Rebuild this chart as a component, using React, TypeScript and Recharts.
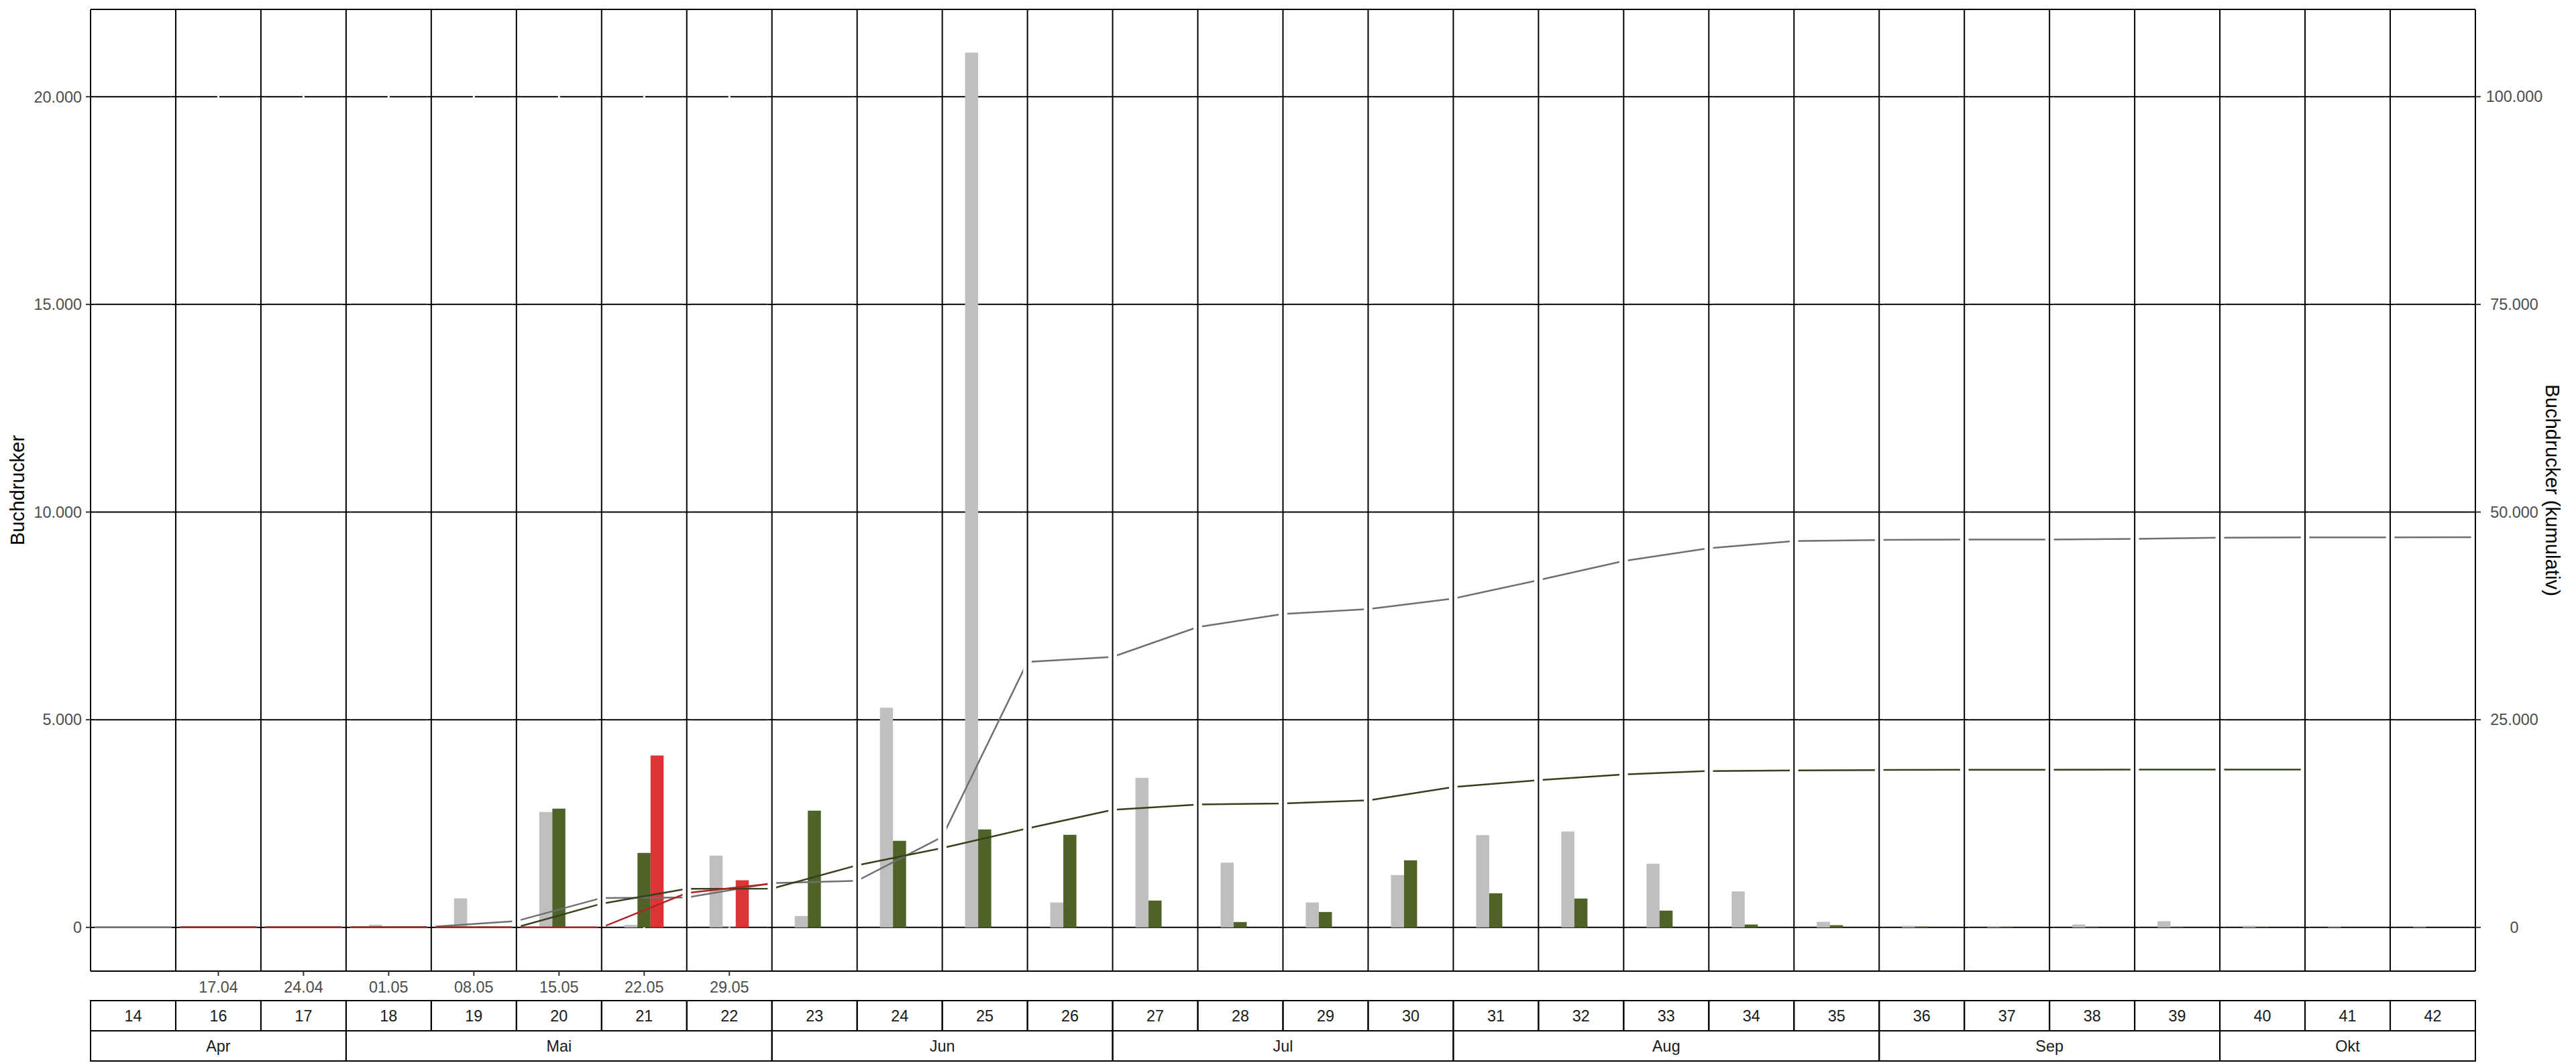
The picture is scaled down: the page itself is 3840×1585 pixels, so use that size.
import React from 'react';
import {
  ComposedChart,
  Bar,
  Line,
  XAxis,
  YAxis,
  ReferenceLine,
  ReferenceArea,
} from 'recharts';

// ---------- data ----------
const weeks = ['14', '16', '17', '18', '19', '20', '21', '22', '23', '24', '25', '26', '27', '28', '29', '30', '31', '32', '33', '34', '35', '36', '37', '38', '39', '40', '41', '42'];

const dateLabels = ['', '17.04', '24.04', '01.05', '08.05', '15.05', '22.05', '29.05', '', '', '', '', '', '', '', '', '', '', '', '', '', '', '', '', '', '', '', ''];

const months = ['Apr', 'Mai', 'Jun', 'Jul', 'Aug', 'Sep', 'Okt'];
const monthSpans = [3, 5, 4, 4, 5, 4, 3];

// weekly catches (left axis)
const grayWeekly = [null, null, null, 65, 700, 2780, 60, 1730, 275, 5290, 21060, 600, 3600, 1560, 600, 1260, 2220, 2310, 1535, 865, 135, 38, 11, 70, 150, 38, 10, 10];
const greenWeekly = [null, null, null, null, null, 2858, 1793, 15, 2810, 2083, 2358, 2229, 646, 129, 371, 1615, 820, 694, 404, 70, 54, 20, 10, 10, 10, 8, null, null];
const redWeekly = [null, null, null, null, null, null, 4140, 1135, null, null, null, null, null, null, null, null, null, null, null, null, null, null, null, null, null, null, null, null];

// cumulative values at week boundaries (right axis), boundary k = left edge of week k
const grayCumulative = [0, 0, 0, 0, 65, 765, 3545, 3605, 5335, 5610, 10900, 31960, 32560, 36160, 37720, 38320, 39580, 41800, 44110, 45645, 46510, 46645, 46683, 46694, 46764, 46914, 46952, 46962, 46972];
const greenCumulative = [null, 0, 0, 0, 0, 0, 2858, 4651, 4666, 7476, 9559, 11917, 14146, 14792, 14921, 15292, 16907, 17727, 18421, 18825, 18895, 18949, 18969, 18979, 18989, 18999, 19007, null, null];
const redCumulative = [null, 0, 0, 0, 0, 0, 0, 4140, 5275, null, null, null, null, null, null, null, null, null, null, null, null, null, null, null, null, null, null, null, null];

const leftTicks = [0, 5000, 10000, 15000, 20000];
const rightTicks = [0, 25000, 50000, 75000, 100000];
const LEFT_DOMAIN: [number, number] = [-1052.5, 22102.5];
const RIGHT_DOMAIN: [number, number] = [-5262.5, 110512.5];

// ---------- layout / style ----------
const W = 3840;
const H = 1585;
const LEFT_W = 135;
const RIGHT_W = 150;
const PANEL_W = (W - LEFT_W - RIGHT_W) / weeks.length;
const GAP = 0.05; // half-width of white gap at panel borders (in panel units)
const FONT = '"Liberation Sans", Arial, Helvetica, sans-serif';

const weeklyData = weeks.map((w, i) => ({
  week: w,
  gray: grayWeekly[i],
  green: greenWeekly[i],
  red: redWeekly[i],
}));

const boundaries = Array.from({ length: weeks.length + 1 }, (_, k) => k);

const lineData = boundaries.map((k) => ({
  k,
  gray: grayCumulative[k],
  green: greenCumulative[k],
  red: redCumulative[k],
}));

const monthStarts: { name: string; start: number; span: number }[] = [];
{
  let s = 0;
  months.forEach((m, i) => {
    monthStarts.push({ name: m, start: s, span: monthSpans[i] });
    s += monthSpans[i];
  });
}

const fmt = (v: number) => String(v).replace(/\B(?=(\d{3})+(?!\d))/g, '.');

function StripTick(props: any) {
  const { x, y, payload } = props;
  const i = weeks.indexOf(String(payload.value));
  const left = x - PANEL_W / 2;
  const date = dateLabels[i];
  const m = monthStarts.find((s) => s.start === i);
  return (
    <g>
      {date ? <line x1={x} x2={x} y1={y} y2={y + 7} stroke="#333333" strokeWidth={2} /> : null}
      {date ? (
        <text x={x} y={y + 23.5} dy="0.35em" textAnchor="middle" fill="#4d4d4d" fontSize={23.4} fontFamily={FONT}>
          {date}
        </text>
      ) : null}
      <rect x={left} y={y + 44} width={PANEL_W} height={45} fill="none" stroke="#000" strokeWidth={2} />
      <text x={x} y={y + 66.5} dy="0.35em" textAnchor="middle" fill="#1a1a1a" fontSize={23.4} fontFamily={FONT}>
        {payload.value}
      </text>
      {m ? (
        <rect x={left} y={y + 89} width={PANEL_W * m.span} height={45} fill="none" stroke="#000" strokeWidth={2} />
      ) : null}
      {m ? (
        <text x={left + (PANEL_W * m.span) / 2} y={y + 111.5} dy="0.35em" textAnchor="middle" fill="#1a1a1a" fontSize={23.4} fontFamily={FONT}>
          {m.name}
        </text>
      ) : null}
    </g>
  );
}

function RightTick(props: any) {
  const { x, y, payload } = props;
  return (
    <text x={x + 50} y={y} dy="0.35em" textAnchor="middle" fill="#4d4d4d" fontSize={23.4} fontFamily={FONT}>
      {fmt(payload.value)}
    </text>
  );
}

function AxisTitle(props: any) {
  const { viewBox, side, text } = props;
  const vb = viewBox || (side === 'left' ? { x: 0, y: 14, width: LEFT_W, height: 1434 } : { x: W - RIGHT_W, y: 14, width: RIGHT_W, height: 1434 });
  const cy = vb.y + vb.height / 2;
  const cx = side === 'left' ? vb.x + 36 : vb.x + 105;
  return (
    <text
      x={cx}
      y={cy}
      textAnchor="middle"
      fill="#000"
      fontSize={29.3}
      fontFamily={FONT}
      transform={`rotate(${side === 'left' ? -90 : 90}, ${cx}, ${cy})`}
    >
      {text}
    </text>
  );
}

export default function App() {
  const datedIdx = dateLabels.map((d, i) => (d ? i : -1)).filter((i) => i >= 0);
  return (
    <div style={{ position: 'absolute', left: 0, top: 0, width: W, height: H, background: '#fff' }}>
      <ComposedChart
        width={W}
        height={H}
        data={weeklyData}
        margin={{ top: 14, right: 0, bottom: 2, left: 0 }}
        barGap={0}
        barCategoryGap={0}
        barSize={19.5}
      >
        <XAxis
          xAxisId="w"
          dataKey="week"
          type="category"
          height={135}
          interval={0}
          tickLine={false}
          axisLine={false}
          tickSize={0}
          tickMargin={0}
          tick={(p: any) => <StripTick {...p} />}
        />
        <XAxis xAxisId="n" type="number" dataKey="k" domain={[0, weeks.length]} hide height={0} allowDataOverflow />
        <YAxis
          yAxisId="l"
          width={LEFT_W}
          domain={LEFT_DOMAIN}
          ticks={leftTicks}
          interval={0}
          allowDataOverflow
          axisLine={false}
          tickSize={7}
          tickMargin={6}
          tickLine={{ stroke: '#333333', strokeWidth: 2 }}
          tick={{ fill: '#4d4d4d', fontSize: 23.4, fontFamily: FONT }}
          tickFormatter={fmt}
          label={<AxisTitle side="left" text="Buchdrucker" />}
        />
        <YAxis
          yAxisId="r"
          orientation="right"
          width={RIGHT_W}
          domain={RIGHT_DOMAIN}
          ticks={rightTicks}
          interval={0}
          allowDataOverflow
          axisLine={false}
          tickSize={8}
          tickMargin={0}
          tickLine={{ stroke: '#333333', strokeWidth: 2 }}
          tick={(p: any) => <RightTick {...p} />}
          label={<AxisTitle side="right" text="Buchdrucker (kumulativ)" />}
        />

        {/* horizontal grid lines (below bars) */}
        {leftTicks.map((v) => (
          <ReferenceLine key={`g${v}`} xAxisId="n" yAxisId="l" y={v} stroke="#000" strokeWidth={2} ifOverflow="visible" zIndex={100} />
        ))}
        {/* small white marks at date positions */}
        {datedIdx.flatMap((i) =>
          [0, 20000].map((v) => (
            <ReferenceLine
              key={`m${i}-${v}`}
              xAxisId="n"
              yAxisId="l"
              segment={[{ x: i + 0.5, y: v - 45 }, { x: i + 0.5, y: v + 45 }]}
              stroke="#fff"
              strokeWidth={3}
              ifOverflow="visible"
              zIndex={150}
            />
          ))
        )}

        <Bar xAxisId="w" yAxisId="l" dataKey="gray" fill="#bfbfbf" isAnimationActive={false} zIndex={300} />
        <Bar xAxisId="w" yAxisId="l" dataKey="green" fill="#4f6228" isAnimationActive={false} zIndex={300} />
        <Bar xAxisId="w" yAxisId="l" dataKey="red" fill="#dc3535" isAnimationActive={false} zIndex={300} />

        <Line xAxisId="n" yAxisId="r" data={lineData} dataKey="gray" type="linear" stroke="#6f6f6f" strokeWidth={2.5} dot={false} activeDot={false} isAnimationActive={false} zIndex={400} />
        <Line xAxisId="n" yAxisId="r" data={lineData} dataKey="green" type="linear" stroke="#34411a" strokeWidth={2.5} dot={false} activeDot={false} isAnimationActive={false} zIndex={401} />
        <Line xAxisId="n" yAxisId="r" data={lineData} dataKey="red" type="linear" stroke="#b22222" strokeWidth={2.5} dot={false} activeDot={false} isAnimationActive={false} zIndex={402} />

        {/* white gaps between panels */}
        {boundaries.map((k) => (
          <ReferenceArea
            key={`s${k}`}
            xAxisId="n"
            yAxisId="l"
            x1={Math.max(0, k - GAP)}
            x2={Math.min(weeks.length, k + GAP)}
            y1={LEFT_DOMAIN[0]}
            y2={LEFT_DOMAIN[1]}
            fill="#fff"
            fillOpacity={1}
            stroke="none"
            ifOverflow="visible"
            zIndex={450}
          />
        ))}
        {/* grid lines restored inside the gaps */}
        {boundaries.flatMap((k) =>
          leftTicks.map((v) => (
            <ReferenceLine
              key={`r${k}-${v}`}
              xAxisId="n"
              yAxisId="l"
              segment={[{ x: Math.max(0, k - GAP), y: v }, { x: Math.min(weeks.length, k + GAP), y: v }]}
              stroke="#000"
              strokeWidth={2}
              ifOverflow="visible"
              zIndex={460}
            />
          ))
        )}
        {/* panel borders */}
        {boundaries.map((k) => (
          <ReferenceLine key={`b${k}`} xAxisId="n" yAxisId="l" x={k} stroke="#000" strokeWidth={2} ifOverflow="visible" zIndex={470} />
        ))}
        <ReferenceLine xAxisId="n" yAxisId="l" y={LEFT_DOMAIN[1]} stroke="#000" strokeWidth={2} ifOverflow="visible" zIndex={470} />
        <ReferenceLine xAxisId="n" yAxisId="l" y={LEFT_DOMAIN[0]} stroke="#000" strokeWidth={2} ifOverflow="visible" zIndex={470} />
      </ComposedChart>
    </div>
  );
}
